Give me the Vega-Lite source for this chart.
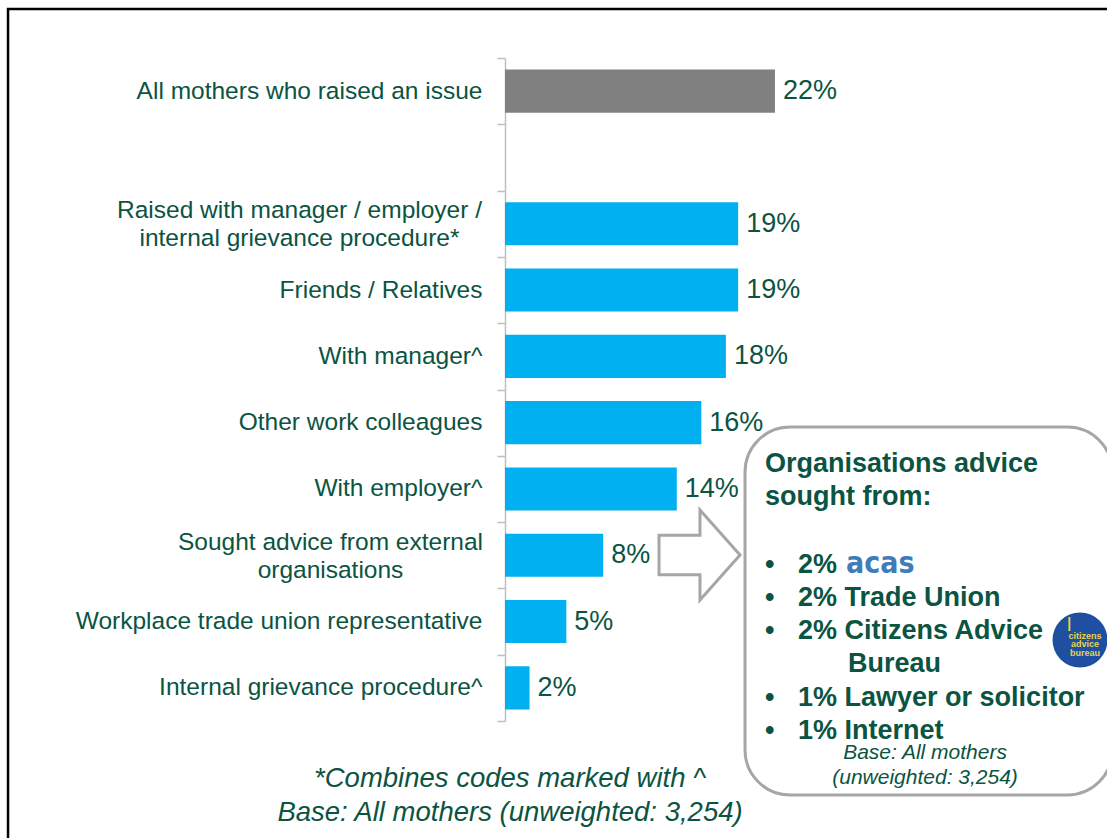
{
  "$schema": "https://vega.github.io/schema/vega-lite/v6.json",
  "width": 589,
  "height": 663,
  "autosize": "none",
  "padding": {"left": 505, "top": 58, "right": 13, "bottom": 117},
  "background": "white",
  "config": {"view": {"stroke": null}, "font": "Liberation Sans"},
  "datasets": {
    "bars": [
      {"item": "All mothers who raised an issue", "value": 22, "label": "22%", "group": "total"},
      {"item": "Raised with manager / employer /|internal grievance procedure*", "value": 19, "label": "19%", "group": "sub"},
      {"item": "Friends / Relatives", "value": 19, "label": "19%", "group": "sub"},
      {"item": "With manager^", "value": 18, "label": "18%", "group": "sub"},
      {"item": "Other work colleagues", "value": 16, "label": "16%", "group": "sub"},
      {"item": "With employer^", "value": 14, "label": "14%", "group": "sub"},
      {"item": "Sought advice from external|organisations", "value": 8, "label": "8%", "group": "sub"},
      {"item": "Workplace trade union representative", "value": 5, "label": "5%", "group": "sub"},
      {"item": "Internal grievance procedure^", "value": 2, "label": "2%", "group": "sub"}
    ]
  },
  "layer": [
    {
      "data": {"name": "bars"},
      "encoding": {
        "y": {
          "field": "item", "type": "nominal",
          "scale": {
            "domain": [
              "All mothers who raised an issue",
              " ",
              "Raised with manager / employer /|internal grievance procedure*",
              "Friends / Relatives",
              "With manager^",
              "Other work colleagues",
              "With employer^",
              "Sought advice from external|organisations",
              "Workplace trade union representative",
              "Internal grievance procedure^"
            ],
            "paddingInner": 0, "paddingOuter": 0
          },
          "axis": {
            "title": null,
            "labelExpr": "datum.value ? split(datum.value, '|') : ''",
            "labelFont": "Liberation Sans",
            "labelFontSize": 24.5,
            "labelColor": "#0b5442",
            "labelLimit": 600,
            "labelLineHeight": 28,
            "labelAlign": {"condition": {"test": "datum.value && indexof(datum.value, '|') >= 0", "value": "center"}, "value": "right"},
            "labelPadding": {"condition": [
              {"test": "datum.value && indexof(datum.value, 'Raised') == 0", "value": 198},
              {"test": "datum.value && indexof(datum.value, 'Sought') == 0", "value": 167}
            ], "value": 15},
            "labelOffset": {"condition": {"test": "datum.value && indexof(datum.value, '|') >= 0", "value": -13}, "value": 0},
            "tickBand": "extent",
            "tickSize": 8,
            "tickColor": "#bfbfbf",
            "tickWidth": 1.5,
            "domainColor": "#bfbfbf",
            "domainWidth": 1.5,
            "grid": false
          }
        },
        "x": {"field": "value", "type": "quantitative", "scale": {"domain": [0, 48], "nice": false}, "axis": null}
      },
      "layer": [
        {
          "mark": {"type": "bar", "height": {"band": 0.65}},
          "encoding": {
            "color": {"field": "group", "type": "nominal", "scale": {"domain": ["total", "sub"], "range": ["#808080", "#00b0f0"]}, "legend": null}
          }
        },
        {
          "mark": {"type": "text", "align": "left", "baseline": "middle", "dx": 8, "fontSize": 27, "color": "#0b5442"},
          "encoding": {
            "text": {"field": "label"}
          }
        }
      ]
    },
    {
      "data": {"values": [{}]},
      "layer": [
        {
          "mark": {"type": "rect", "filled": false, "stroke": "#000000", "strokeWidth": 2.5},
          "encoding": {
            "x": {"datum": -40.5, "type": "quantitative", "scale": {"domain": [0, 48], "nice": false}},
            "x2": {"datum": 60},
            "y": {"datum": -0.739, "type": "quantitative", "scale": {"domain": [0, 10], "reverse": true, "nice": false, "zero": false}, "axis": null},
            "y2": {"datum": 13}
          }
        },
        {
          "mark": {"type": "rect", "fill": "white", "stroke": "#a6a6a6", "strokeWidth": 3, "cornerRadius": 45},
          "encoding": {
            "x": {"datum": 19.56, "type": "quantitative", "scale": {"domain": [0, 48], "nice": false}},
            "x2": {"datum": 49.5},
            "y": {"datum": 5.566, "type": "quantitative", "scale": {"domain": [0, 10], "reverse": true, "nice": false, "zero": false}, "axis": null},
            "y2": {"datum": 11.116}
          }
        },
        {
          "mark": {"type": "point", "shape": "M -0.91 -0.44 L 0 -0.44 L 0 -1 L 0.89 0 L 0 1 L 0 0.44 L -0.91 0.44 Z", "size": 8100, "filled": true, "fill": "white", "stroke": "#a6a6a6", "strokeWidth": 3, "opacity": 1},
          "encoding": {
            "x": {"datum": 15.89, "type": "quantitative", "scale": {"domain": [0, 48], "nice": false}},
            "y": {"datum": 7.496, "type": "quantitative", "scale": {"domain": [0, 10], "reverse": true, "nice": false, "zero": false}, "axis": null}
          }
        },
        {
          "mark": {"type": "text", "align": "left", "baseline": "alphabetic", "fontSize": 27, "fontWeight": "bold", "lineHeight": 33, "color": "#0b5442", "text": ["Organisations advice", "sought from:"]},
          "encoding": {
            "x": {"datum": 21.19, "type": "quantitative", "scale": {"domain": [0, 48], "nice": false}},
            "y": {"datum": 6.244, "type": "quantitative", "scale": {"domain": [0, 10], "reverse": true, "nice": false, "zero": false}, "axis": null}
          }
        },
        {
          "mark": {"type": "text", "align": "left", "baseline": "alphabetic", "fontSize": 27, "fontWeight": "bold", "lineHeight": 33, "color": "#0b5442", "text": ["•", "•", "•"]},
          "encoding": {
            "x": {"datum": 21.19, "type": "quantitative", "scale": {"domain": [0, 48], "nice": false}},
            "y": {"datum": 7.768, "type": "quantitative", "scale": {"domain": [0, 10], "reverse": true, "nice": false, "zero": false}, "axis": null}
          }
        },
        {
          "mark": {"type": "text", "align": "left", "baseline": "alphabetic", "fontSize": 27, "fontWeight": "bold", "lineHeight": 33, "color": "#0b5442", "text": ["2%", "2% Trade Union", "2% Citizens Advice"]},
          "encoding": {
            "x": {"datum": 23.88, "type": "quantitative", "scale": {"domain": [0, 48], "nice": false}},
            "y": {"datum": 7.768, "type": "quantitative", "scale": {"domain": [0, 10], "reverse": true, "nice": false, "zero": false}, "axis": null}
          }
        },
        {
          "mark": {"type": "text", "align": "left", "baseline": "alphabetic", "fontSize": 27, "fontWeight": "bold", "color": "#0b5442", "text": "Bureau"},
          "encoding": {
            "x": {"datum": 27.95, "type": "quantitative", "scale": {"domain": [0, 48], "nice": false}},
            "y": {"datum": 9.266, "type": "quantitative", "scale": {"domain": [0, 10], "reverse": true, "nice": false, "zero": false}, "axis": null}
          }
        },
        {
          "mark": {"type": "text", "align": "left", "baseline": "alphabetic", "fontSize": 27, "fontWeight": "bold", "lineHeight": 33, "color": "#0b5442", "text": ["•", "•"]},
          "encoding": {
            "x": {"datum": 21.19, "type": "quantitative", "scale": {"domain": [0, 48], "nice": false}},
            "y": {"datum": 9.774, "type": "quantitative", "scale": {"domain": [0, 10], "reverse": true, "nice": false, "zero": false}, "axis": null}
          }
        },
        {
          "mark": {"type": "text", "align": "left", "baseline": "alphabetic", "fontSize": 27, "fontWeight": "bold", "lineHeight": 33, "color": "#0b5442", "text": ["1% Lawyer or solicitor", "1% Internet"]},
          "encoding": {
            "x": {"datum": 23.88, "type": "quantitative", "scale": {"domain": [0, 48], "nice": false}},
            "y": {"datum": 9.774, "type": "quantitative", "scale": {"domain": [0, 10], "reverse": true, "nice": false, "zero": false}, "axis": null}
          }
        },
        {
          "mark": {"type": "text", "align": "left", "baseline": "alphabetic", "font": "Liberation Sans Narrow, DejaVu Sans Condensed, Liberation Sans", "fontSize": 30, "fontWeight": "bold", "letterSpacing": -3.5, "color": "#3f7cb8", "text": "acas"},
          "encoding": {
            "x": {"datum": 27.79, "type": "quantitative", "scale": {"domain": [0, 48], "nice": false}},
            "y": {"datum": 7.768, "type": "quantitative", "scale": {"domain": [0, 10], "reverse": true, "nice": false, "zero": false}, "axis": null}
          }
        },
        {
          "mark": {"type": "point", "shape": "circle", "size": 3025, "filled": true, "fill": "#1f4fa0", "opacity": 1},
          "encoding": {
            "x": {"datum": 46.86, "type": "quantitative", "scale": {"domain": [0, 48], "nice": false}},
            "y": {"datum": 8.778, "type": "quantitative", "scale": {"domain": [0, 10], "reverse": true, "nice": false, "zero": false}, "axis": null}
          }
        },
        {
          "mark": {"type": "text", "align": "center", "baseline": "alphabetic", "fontSize": 9, "fontWeight": "bold", "lineHeight": 8.5, "color": "#e6d44a", "text": ["citizens", "advice", "bureau"]},
          "encoding": {
            "x": {"datum": 47.27, "type": "quantitative", "scale": {"domain": [0, 48], "nice": false}},
            "y": {"datum": 8.763, "type": "quantitative", "scale": {"domain": [0, 10], "reverse": true, "nice": false, "zero": false}, "axis": null}
          }
        },
        {
          "mark": {"type": "text", "align": "center", "baseline": "alphabetic", "fontSize": 14, "fontWeight": "bold", "color": "#e6d44a", "text": "|"},
          "encoding": {
            "x": {"datum": 45.98, "type": "quantitative", "scale": {"domain": [0, 48], "nice": false}},
            "y": {"datum": 8.597, "type": "quantitative", "scale": {"domain": [0, 10], "reverse": true, "nice": false, "zero": false}, "axis": null}
          }
        },
        {
          "mark": {"type": "text", "align": "center", "baseline": "alphabetic", "fontSize": 21, "fontStyle": "italic", "lineHeight": 25, "color": "#0b5442", "text": ["Base: All mothers", "(unweighted: 3,254)"]},
          "encoding": {
            "x": {"datum": 34.23, "type": "quantitative", "scale": {"domain": [0, 48], "nice": false}},
            "y": {"datum": 10.573, "type": "quantitative", "scale": {"domain": [0, 10], "reverse": true, "nice": false, "zero": false}, "axis": null}
          }
        },
        {
          "mark": {"type": "text", "align": "center", "baseline": "alphabetic", "fontSize": 27.5, "fontStyle": "italic", "lineHeight": 34, "color": "#0b5442", "text": ["*Combines codes marked with ^", "Base: All mothers (unweighted: 3,254)"]},
          "encoding": {
            "x": {"datum": 0.41, "type": "quantitative", "scale": {"domain": [0, 48], "nice": false}},
            "y": {"datum": 10.995, "type": "quantitative", "scale": {"domain": [0, 10], "reverse": true, "nice": false, "zero": false}, "axis": null}
          }
        }
      ]
    }
  ],
  "resolve": {"scale": {"y": "independent"}, "axis": {"y": "independent"}}
}
